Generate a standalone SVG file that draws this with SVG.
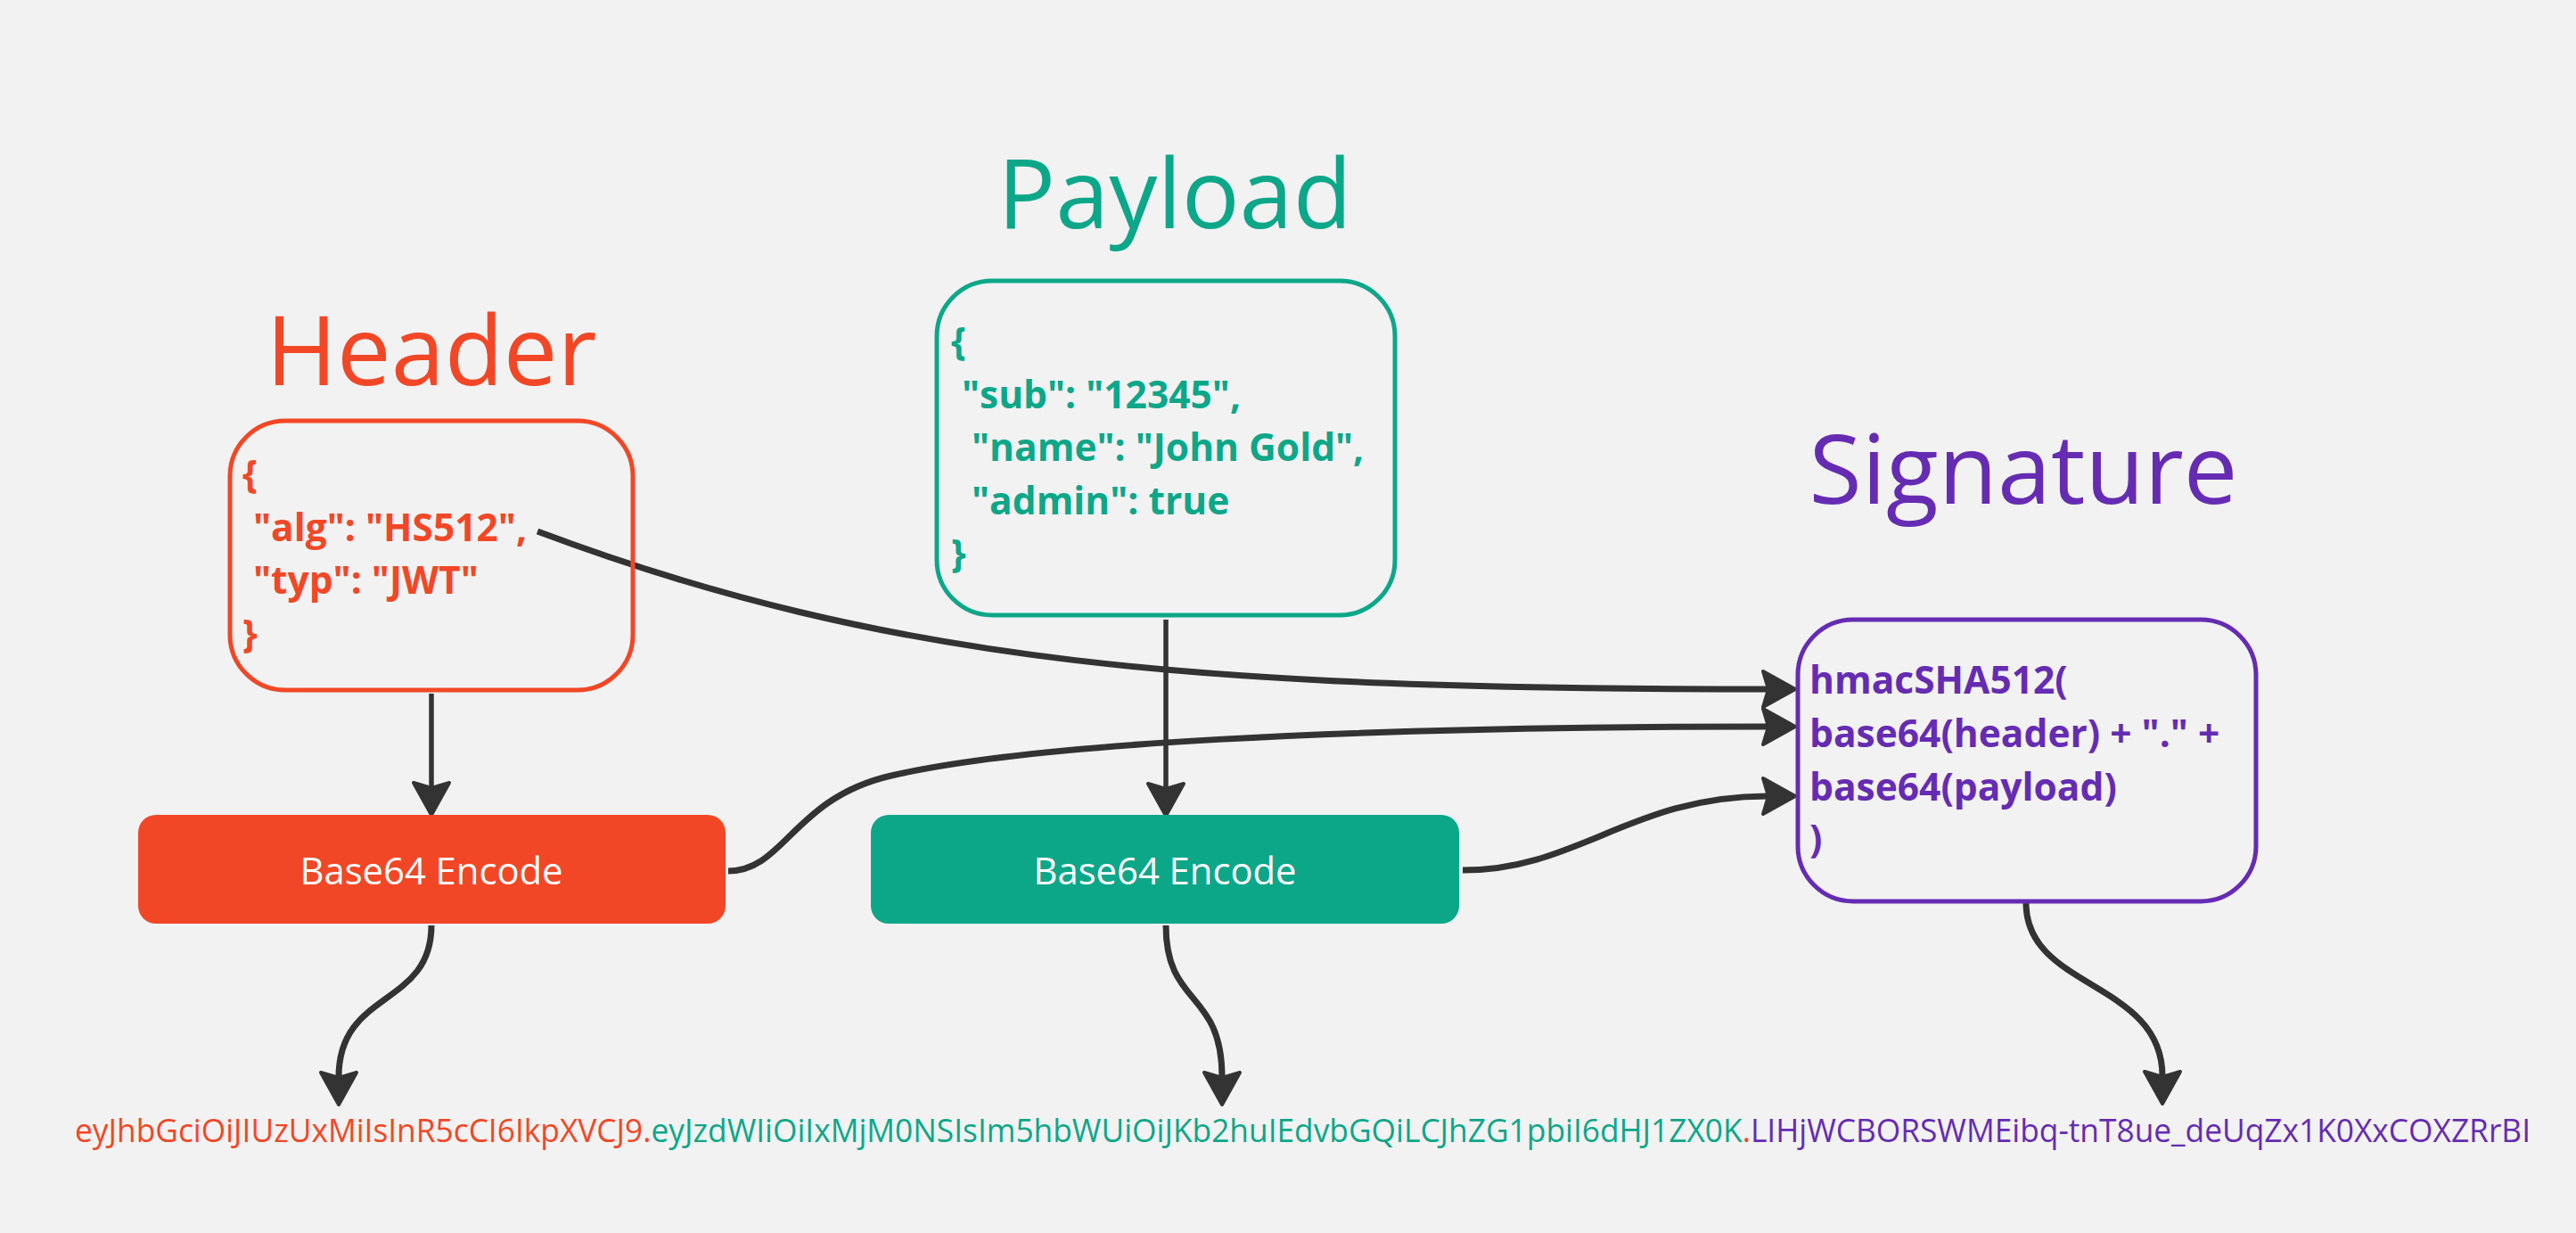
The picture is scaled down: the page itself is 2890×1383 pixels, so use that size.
<svg xmlns="http://www.w3.org/2000/svg" width="2890" height="1383" viewBox="0 0 2890 1383">
  <defs>
    <style>
      .title { font-family: "Open Sans", "Noto Sans", "Liberation Sans", sans-serif; font-size: 108px; font-weight: 400; text-anchor: middle; }
      .code { font-family: "Open Sans", "Noto Sans", "Liberation Sans", sans-serif; font-size: 42.5px; font-weight: 700; }
      .enc { font-family: "Open Sans", "Noto Sans", "Liberation Sans", sans-serif; font-size: 42px; font-weight: 400; fill: #ffffff; text-anchor: middle; }
      .tok { font-family: "Open Sans", "Noto Sans", "Liberation Sans", sans-serif; font-size: 37px; font-weight: 400; }
      .red { fill: #F24726; }
      .green { fill: #0CA789; }
      .purple { fill: #652CB3; }
      .box { fill: none; stroke-width: 5; }
      .conn { fill: none; stroke: #333333; stroke-width: 7; }
      .conn.straight { stroke-width: 5.5; }
    </style>
    <marker id="arrow" markerUnits="userSpaceOnUse" viewBox="-20 -30 60 60" markerWidth="60" markerHeight="60" refX="0" refY="0" orient="auto" overflow="visible">
      <path d="M31,0 L-5,-20 L1,0 L-5,20 Z" fill="#333333" stroke="#333333" stroke-width="4" stroke-linejoin="round"/>
    </marker>
  </defs>

  <rect x="0" y="0" width="2890" height="1383" fill="#F2F2F2"/>

  <g id="connectors">
    <path class="conn straight" d="M484,778 L484,883" marker-end="url(#arrow)"/>
    <path class="conn straight" d="M1308,695 L1308,884" marker-end="url(#arrow)"/>
    <path class="conn" d="M603,596 C1000,745 1350,773 1983,773" marker-end="url(#arrow)"/>
    <path class="conn" d="M817,977 C880,977 890,895 1000,870 C1150,835 1500,815 1983,815" marker-end="url(#arrow)"/>
    <path class="conn" d="M1641,976 C1770,976 1830,893 1983,893" marker-end="url(#arrow)"/>
    <path class="conn" d="M484,1038 C484,1130 380,1110 380,1208" marker-end="url(#arrow)"/>
    <path class="conn" d="M1308,1038 C1308,1130 1371,1110 1371,1208" marker-end="url(#arrow)"/>
    <path class="conn" d="M2273,1013 C2273,1110 2426,1100 2426,1207" marker-end="url(#arrow)"/>
  </g>

  <g id="header-title">
    <text class="title red" x="484" y="432">Header</text>
  </g>
  <g id="payload-title">
    <text class="title green" x="1318" y="256">Payload</text>
  </g>
  <g id="signature-title">
    <text class="title purple" x="2270" y="565">Signature</text>
  </g>

  <g id="header">
    <rect class="box" x="258" y="472" width="452" height="302" rx="62" ry="62" stroke="#F24726"/>
    <text class="code red">
      <tspan x="272" y="547">{</tspan>
      <tspan x="284" y="606.5">"alg": "HS512",</tspan>
      <tspan x="284" y="666">"typ": "JWT"</tspan>
      <tspan x="272" y="725.5">}</tspan>
    </text>
  </g>

  <g id="payload">
    <rect class="box" x="1051" y="315" width="514" height="375" rx="62" ry="62" stroke="#0CA789"/>
    <text class="code green">
      <tspan x="1067" y="398">{</tspan>
      <tspan x="1079" y="457.5">"sub": "12345",</tspan>
      <tspan x="1090" y="517">"name": "John Gold",</tspan>
      <tspan x="1090" y="576.5">"admin": true</tspan>
      <tspan x="1067" y="636">}</tspan>
    </text>
  </g>

  <g id="signature">
    <rect class="box" x="2017" y="695" width="514" height="316" rx="62" ry="62" stroke="#652CB3"/>
    <text class="code purple">
      <tspan x="2030" y="778">hmacSHA512(</tspan>
      <tspan x="2030" y="838">base64(header) + "." +</tspan>
      <tspan x="2030" y="898">base64(payload)</tspan>
      <tspan x="2030" y="956">)</tspan>
    </text>
  </g>

  <g id="header-encode">
    <rect x="155" y="914" width="659" height="122" rx="20" ry="20" fill="#F24726"/>
    <text class="enc" x="484" y="992" textLength="295" lengthAdjust="spacingAndGlyphs">Base64 Encode</text>
  </g>

  <g id="payload-encode">
    <rect x="977" y="914" width="660" height="122" rx="20" ry="20" fill="#0CA789"/>
    <text class="enc" x="1307" y="992" textLength="295" lengthAdjust="spacingAndGlyphs">Base64 Encode</text>
  </g>

  <g id="token">
    <text class="tok" x="84" y="1281" textLength="2755" lengthAdjust="spacingAndGlyphs"><tspan class="red">eyJhbGciOiJIUzUxMiIsInR5cCI6IkpXVCJ9.</tspan><tspan class="green">eyJzdWIiOiIxMjM0NSIsIm5hbWUiOiJKb2huIEdvbGQiLCJhZG1pbiI6dHJ1ZX0K</tspan><tspan class="red">.</tspan><tspan class="purple">LIHjWCBORSWMEibq-tnT8ue_deUqZx1K0XxCOXZRrBI</tspan></text>
  </g>
</svg>
